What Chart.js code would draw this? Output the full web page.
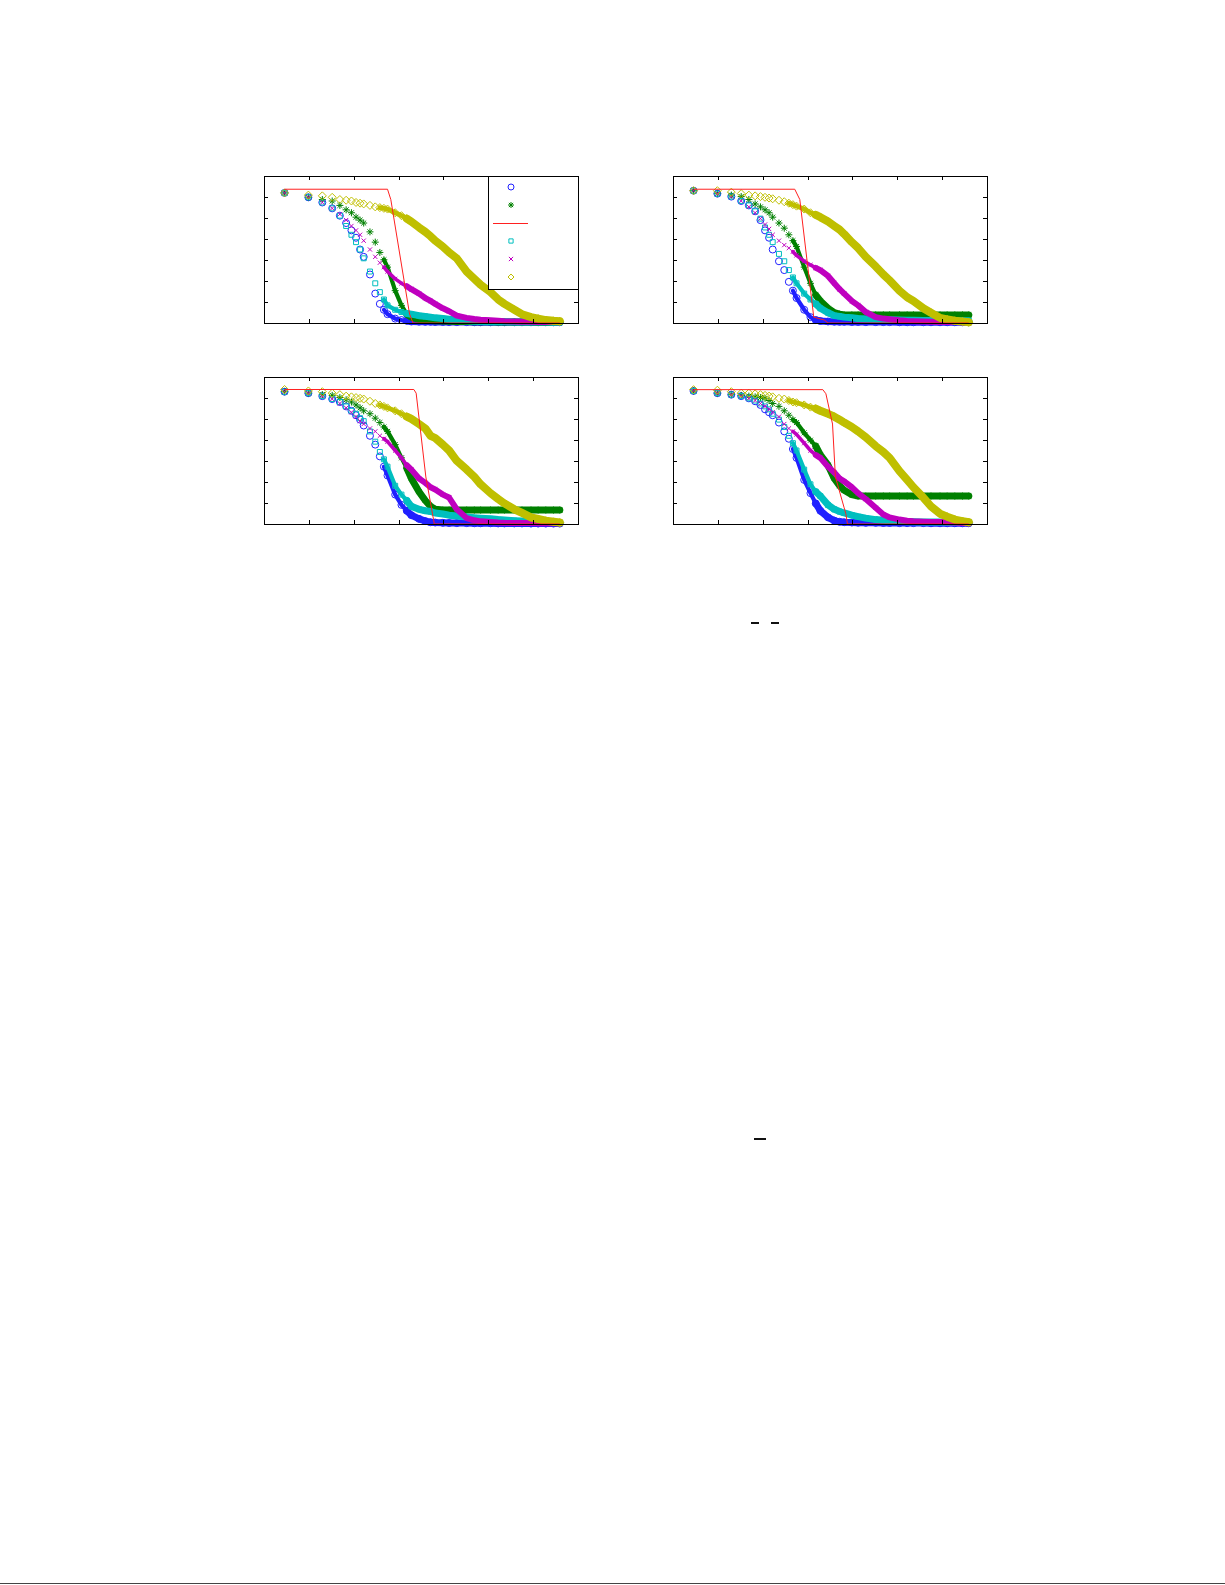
<!DOCTYPE html>
<html>
<head>
<meta charset="utf-8">
<script src="https://cdn.jsdelivr.net/npm/chart.js@4.4.1/dist/chart.umd.min.js"></script>
<style>
  body { margin: 0; background: #fff; width: 1225px; height: 1585px; position: relative; overflow: hidden; }
  .panel { position: absolute; width: 326px; height: 159px; }
  .mark { position: absolute; background: #111; height: 2px; }
</style>
</head>
<body>
<div class="panel" style="left:258px;top:170px"><canvas id="p1"></canvas></div>
<div class="panel" style="left:667px;top:170px"><canvas id="p2"></canvas></div>
<div class="panel" style="left:258px;top:371px"><canvas id="p3"></canvas></div>
<div class="panel" style="left:667px;top:371px"><canvas id="p4"></canvas></div>
<div class="mark" style="left:751px;top:622px;width:8px"></div>
<div class="mark" style="left:771px;top:622px;width:8px"></div>
<div class="mark" style="left:754px;top:1138px;width:12px"></div>
<div class="mark" style="left:0;top:1583px;width:1225px;height:1px;background:#444"></div>
<script>
const xs = [1, 2, 3, 4, 5, 6, 7, 8, 9, 10, 12, 14, 16, 18, 20, 25, 30, 35, 40, 50, 60, 70, 80, 100, 120, 150, 200, 250, 300, 400, 500, 600, 800, 1000, 1300, 1600, 2000, 2500, 3000];

// panel 1
const blue1 = [.885, .855, .82, .78, .73, .68, .63, .58, .5, .45, .33, .2, .13, .09, .06, .03, .02, .015, .01, .009, .008, .008, .007, .007, .006, .006, .006, .005, .005, .005, .005, .005, .005, .005, .005, .005, .005, .005, .005];
const green1 = [.885, .855, .84, .83, .8, .77, .75, .72, .7, .68, .62, .55, .48, .43, .38, .22, .12, .06, .04, .025, .02, .017, .015, .013, .012, .011, .01, .009, .008, .008, .007, .007, .006, .006, .006, .005, .005, .005, .005];
const redX1 = [1, 20, 22, 38, 42, 3000];
const red1 = [.91, .91, .84, .06, 0, 0];
const cyan1 = [.885, .855, .82, .78, .73, .66, .6, .55, .5, .44, .35, .27, .21, .16, .12, .09, .075, .065, .06, .05, .045, .04, .035, .03, .025, .02, .015, .012, .01, .009, .008, .008, .007, .007, .006, .006, .006, .005, .005];
const magenta1 = [.885, .855, .82, .78, .74, .7, .66, .63, .6, .56, .5, .45, .41, .38, .35, .3, .27, .25, .23, .2, .17, .15, .13, .1, .08, .05, .035, .027, .022, .018, .015, .012, .01, .009, .008, .007, .006, .006, .005];
const yellow1 = [.885, .87, .865, .855, .84, .835, .83, .82, .815, .81, .8, .79, .785, .78, .775, .75, .73, .71, .69, .65, .62, .59, .56, .52, .48, .44, .35, .3, .26, .21, .16, .13, .09, .06, .04, .03, .02, .015, .012];

// panel 2
const blue2 = [.9, .88, .86, .83, .8, .76, .7, .63, .58, .5, .42, .36, .28, .22, .17, .09, .04, .02, .014, .01, .009, .008, .008, .007, .007, .006, .006, .006, .006, .005, .005, .005, .005, .005, .005, .005, .005, .005, .005];
const green2 = [.9, .88, .87, .86, .84, .81, .79, .77, .75, .72, .68, .645, .6, .56, .52, .38, .27, .19, .15, .1, .07, .06, .055, .055, .055, .055, .055, .055, .055, .055, .055, .055, .055, .055, .055, .055, .055, .055, .055];
const redX2 = [1, 19, 22, 33, 45, 50, 3000];
const red2 = [.91, .91, .84, .04, .02, 0, 0];
const cyan2 = [.9, .88, .86, .83, .8, .76, .71, .65, .6, .55, .47, .42, .36, .31, .27, .2, .16, .13, .1, .07, .05, .045, .04, .035, .03, .028, .025, .023, .022, .02, .019, .018, .017, .017, .016, .016, .015, .015, .015];
const magenta2 = [.9, .88, .86, .83, .79, .75, .71, .67, .64, .6, .56, .53, .51, .485, .46, .42, .395, .375, .36, .32, .27, .23, .2, .15, .12, .075, .04, .03, .025, .018, .014, .012, .01, .008, .007, .006, .006, .005, .005];
const yellow2 = [.9, .9, .89, .88, .87, .865, .86, .855, .85, .845, .835, .825, .815, .805, .795, .775, .75, .735, .72, .69, .66, .635, .605, .55, .51, .45, .385, .33, .29, .22, .175, .15, .1, .07, .035, .025, .015, .01, .005];

// panel 3
const blue3 = [.9, .89, .87, .85, .83, .8, .77, .74, .71, .67, .6, .54, .46, .39, .33, .2, .13, .09, .06, .035, .02, .012, .01, .008, .007, .006, .006, .005, .005, .005, .004, .004, .004, .004, .003, .003, .003, .003, .003];
const green3 = [.9, .89, .88, .875, .86, .845, .83, .81, .79, .77, .75, .72, .69, .66, .63, .54, .45, .38, .31, .22, .16, .12, .1, .095, .095, .095, .095, .095, .095, .095, .095, .095, .095, .095, .095, .095, .095, .095, .095];
const redX3 = [1, 43, 46, 61, 74, 78, 3000];
const red3 = [.915, .915, .89, .32, .07, 0, 0];
const cyan3 = [.9, .89, .87, .85, .83, .8, .77, .75, .72, .7, .63, .56, .49, .44, .39, .26, .2, .16, .12, .1, .09, .085, .075, .068, .06, .055, .048, .043, .04, .035, .03, .027, .023, .02, .017, .015, .013, .012, .011];
const magenta3 = [.9, .89, .87, .85, .82, .79, .76, .73, .7, .68, .65, .63, .6, .58, .56, .5, .45, .4, .37, .31, .28, .25, .235, .2, .18, .1, .04, .025, .018, .014, .01, .008, .007, .006, .006, .005, .005, .005, .005];
const yellow3 = [.915, .905, .9, .89, .88, .87, .865, .86, .855, .85, .835, .82, .81, .8, .79, .77, .75, .73, .715, .68, .65, .6, .585, .54, .5, .43, .37, .32, .27, .21, .17, .14, .1, .075, .045, .034, .022, .015, .01];

// panel 4
const blue4 = [.905, .89, .88, .87, .855, .835, .81, .78, .76, .74, .69, .63, .58, .51, .45, .3, .21, .14, .09, .045, .023, .015, .012, .01, .009, .008, .008, .007, .007, .006, .006, .006, .006, .005, .005, .005, .005, .005, .005];
const green4 = [.905, .89, .88, .875, .87, .865, .86, .855, .84, .82, .8, .77, .74, .71, .69, .62, .57, .53, .47, .4, .31, .26, .23, .2, .19, .19, .19, .19, .19, .19, .19, .19, .19, .19, .19, .19, .19, .19, .19];
const redX4 = [1, 43, 47, 57, 62, 80, 84, 88, 3000];
const red4 = [.914, .914, .886, .68, .32, .11, .07, 0, 0];
const cyan4 = [.905, .89, .88, .87, .855, .84, .82, .8, .78, .75, .71, .66, .6, .55, .5, .37, .27, .22, .19, .13, .1, .085, .075, .06, .05, .04, .03, .025, .02, .018, .016, .015, .014, .013, .013, .012, .012, .012, .012];
const magenta4 = [.905, .89, .88, .87, .855, .84, .82, .8, .78, .76, .73, .68, .65, .63, .61, .55, .5, .47, .45, .39, .35, .31, .29, .25, .21, .17, .11, .065, .045, .03, .022, .019, .016, .014, .013, .012, .01, .007, .005];
const yellow4 = [.914, .91, .9, .89, .89, .885, .88, .875, .87, .865, .855, .85, .84, .83, .825, .81, .795, .785, .77, .75, .73, .71, .69, .66, .63, .59, .53, .49, .45, .36, .3, .25, .18, .12, .07, .05, .03, .02, .012];

const colors = { blue: '#2020ff', green: '#008000', red: '#ff2020', cyan: '#00bfbf', magenta: '#bf00bf', yellow: '#bfbf00' };

function pts(xv, yv) { return xv.map((x, i) => ({ x, y: yv[i] })); }

// markers overlap into a solid band where the real samples get dense
function markerSet(data, color, style, radius, bandFrom) {
  return {
    data, showLine: true, borderWidth: radius * 2,
    pointStyle: style, pointRadius: radius, pointBorderWidth: 1,
    pointBorderColor: color, pointBackgroundColor: 'transparent',
    borderColor: color, borderCapStyle: 'round', borderJoinStyle: 'round',
    segment: {
      borderColor: c => c.p0.parsed.x >= bandFrom ? color : 'transparent',
      borderWidth: c => c.p0.parsed.x >= bandFrom + 15 ? radius * 2 : radius * 1.2
    }
  };
}

const framePlugin = {
  id: 'frame',
  afterDatasetsDraw(chart) {
    const { ctx, chartArea: a } = chart;
    ctx.save();
    ctx.strokeStyle = '#000';
    ctx.lineWidth = 1;
    ctx.strokeRect(a.left + 0.5, a.top + 0.5, a.right - a.left, a.bottom - a.top);
    for (let i = 1; i < 7; i++) {
      const x = Math.round(a.left + (a.right - a.left) * i / 7) + 0.5;
      const y = Math.round(a.top + (a.bottom - a.top) * i / 7) + 0.5;
      ctx.beginPath();
      ctx.moveTo(x, a.top); ctx.lineTo(x, a.top + 4);
      ctx.moveTo(x, a.bottom); ctx.lineTo(x, a.bottom - 4);
      ctx.moveTo(a.left, y); ctx.lineTo(a.left + 4, y);
      ctx.moveTo(a.right, y); ctx.lineTo(a.right - 4, y);
      ctx.stroke();
    }
    if (chart.options.plugins.frame && chart.options.plugins.frame.legend) {
      const lx = a.right - 90, ly = a.top, lh = 113;
      ctx.fillStyle = '#fff';
      ctx.fillRect(lx, ly, 90, lh);
      ctx.lineWidth = 1;
      ctx.strokeRect(lx + 0.5, ly + 0.5, 90, lh);
      const rows = [
        ['circle', colors.blue], ['star', colors.green], ['line', colors.red],
        ['rect', colors.cyan], ['crossRot', colors.magenta], ['rectRot', colors.yellow]
      ];
      rows.forEach((r, i) => {
        const cy = ly + 11 + i * 18;
        if (r[0] === 'line') {
          ctx.strokeStyle = r[1];
          ctx.beginPath(); ctx.moveTo(lx + 5, cy + 0.5); ctx.lineTo(lx + 40, cy + 0.5); ctx.stroke();
        } else {
          ctx.strokeStyle = r[1]; ctx.fillStyle = 'transparent';
          Chart.helpers.drawPoint(ctx, { pointStyle: r[0], radius: 3, borderWidth: 1 }, lx + 23, cy);
        }
      });
      ctx.strokeStyle = '#000';
    }
    ctx.restore();
  }
};

function makePanel(id, series, legend) {
  const [b, g, rx, r, c, m, y] = series;
  new Chart(document.getElementById(id), {
    type: 'scatter',
    data: {
      datasets: [
        { data: pts(rx, r), showLine: true, borderColor: colors.red, borderWidth: 1, pointRadius: 0 },
        markerSet(pts(xs, y), colors.yellow, 'rectRot', 4, 16),
        markerSet(pts(xs, m), colors.magenta, 'crossRot', 3, 18),
        markerSet(pts(xs, c), colors.cyan, 'rect', 3.5, 18),
        markerSet(pts(xs, g), colors.green, 'star', 3.5, 18),
        markerSet(pts(xs, b), colors.blue, 'circle', 3.5, 18)
      ]
    },
    options: {
      responsive: false, animation: false, clip: false,
      layout: { padding: 6 },
      scales: {
        x: { type: 'logarithmic', min: 0.55, max: 5100, display: false },
        y: { min: 0, max: 1, display: false }
      },
      plugins: { legend: { display: false }, tooltip: { enabled: false }, frame: { legend } }
    },
    plugins: [framePlugin]
  });
}

for (const id of ['p1', 'p2', 'p3', 'p4']) {
  const cv = document.getElementById(id);
  cv.width = 326; cv.height = 159;
}

makePanel('p1', [blue1, green1, redX1, red1, cyan1, magenta1, yellow1], true);
makePanel('p2', [blue2, green2, redX2, red2, cyan2, magenta2, yellow2], false);
makePanel('p3', [blue3, green3, redX3, red3, cyan3, magenta3, yellow3], false);
makePanel('p4', [blue4, green4, redX4, red4, cyan4, magenta4, yellow4], false);
</script>
</body>
</html>
